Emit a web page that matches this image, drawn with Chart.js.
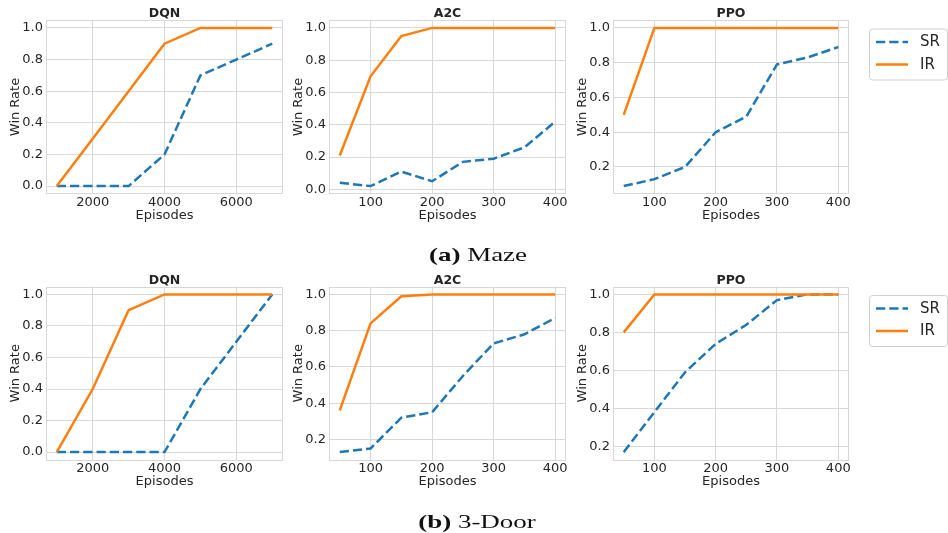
<!DOCTYPE html>
<html><head><meta charset="utf-8">
<script src="https://cdn.jsdelivr.net/npm/chart.js@4.4.0/dist/chart.umd.min.js"></script>
<style>
html,body{margin:0;padding:0;background:#fff;width:948px;height:533px;overflow:hidden;position:relative;}
canvas{position:absolute;left:0;top:0;}
.cap{position:absolute;font-family:"Liberation Serif","Times New Roman",serif;font-size:19px;line-height:19px;color:#111;white-space:nowrap;transform:translateX(-50%) scaleX(1.42);transform-origin:center;}
</style></head><body>
<canvas id="c0" width="948" height="533"></canvas>
<canvas id="c1" width="948" height="533"></canvas>
<canvas id="c2" width="948" height="533"></canvas>
<canvas id="c3" width="948" height="533"></canvas>
<canvas id="c4" width="948" height="533"></canvas>
<canvas id="c5" width="948" height="533"></canvas>
<div class="cap" style="left:478px;top:245px;"><b>(a)</b>&nbsp;Maze</div>
<div class="cap" style="left:477px;top:512px;"><b>(b)</b>&nbsp;3-Door</div>
<script>
// ---- data ----
const dqnEpisodes = [1000, 2000, 3000, 4000, 5000, 6000, 7000];
const pgEpisodes = [50, 100, 150, 200, 250, 300, 350, 400];
const dqnXTicks = [2000, 4000, 6000];
const pgXTicks = [100, 200, 300, 400];
const yTicksFull = [0, 0.2, 0.4, 0.6, 0.8, 1.0];
const yTicksHigh = [0.2, 0.4, 0.6, 0.8, 1.0];
const algoTitles = ['DQN', 'A2C', 'PPO'];
const seriesLabels = ['SR', 'IR'];

const mazeDqnSR = [0, 0, 0, 0.2, 0.7, 0.8, 0.9];
const mazeDqnIR = [0, 0.3, 0.6, 0.9, 1.0, 1.0, 1.0];
const mazeA2cSR = [0.04, 0.02, 0.11, 0.05, 0.17, 0.19, 0.26, 0.42];
const mazeA2cIR = [0.21, 0.70, 0.95, 1.0, 1.0, 1.0, 1.0, 1.0];
const mazePpoSR = [0.09, 0.13, 0.20, 0.40, 0.49, 0.79, 0.83, 0.89];
const mazePpoIR = [0.5, 1.0, 1.0, 1.0, 1.0, 1.0, 1.0, 1.0];

const doorDqnSR = [0, 0, 0, 0, 0.4, 0.7, 1.0];
const doorDqnIR = [0, 0.4, 0.9, 1.0, 1.0, 1.0, 1.0];
const doorA2cSR = [0.13, 0.15, 0.32, 0.35, 0.55, 0.73, 0.78, 0.87];
const doorA2cIR = [0.36, 0.84, 0.99, 1.0, 1.0, 1.0, 1.0, 1.0];
const doorPpoSR = [0.17, 0.38, 0.59, 0.74, 0.84, 0.97, 1.0, 1.0];
const doorPpoIR = [0.8, 1.0, 1.0, 1.0, 1.0, 1.0, 1.0, 1.0];

// ---- layout ----
const W = 948, H = 533;
const colLeft = [46, 329, 613];
const colRight = [283, 566, 849];
const rowTop = [19.5, 286];
const rowBottom = [194, 460];
const YW = 40, XH = 30, TH = 12;
const TXT = '#262626';
const GRID = '#d8d8d8';

Chart.defaults.font.family = 'DejaVu Sans';

function padRange(lo, hi) { const p = (hi - lo) * 0.05; return [lo - p, hi + p]; }

const frameLegendPlugin = {
  id: 'frameLegend',
  afterDatasetsDraw(chart) {
    const ctx = chart.ctx, a = chart.chartArea;
    ctx.save();
    ctx.strokeStyle = GRID; ctx.lineWidth = 1;
    ctx.strokeRect(Math.round(a.left) + 0.5, Math.round(a.top) + 0.5, Math.round(a.right - a.left) - 1, Math.round(a.bottom - a.top) - 1);
    ctx.restore();
    if (!chart.$showLegend) return;
    const x0 = a.right + 20, y0 = a.top + 8.5, w = 78, h = 51;
    ctx.save();
    ctx.fillStyle = '#fff';
    ctx.strokeStyle = '#d0d0d0';
    ctx.lineWidth = 1;
    ctx.beginPath();
    ctx.roundRect(x0 + 0.5, y0 + 0.5, w, h, 3);
    ctx.fill(); ctx.stroke();
    chart.data.datasets.forEach((ds, i) => {
      const cy = y0 + 13.5 + i * 22.5;
      ctx.strokeStyle = ds.borderColor;
      ctx.lineWidth = ds.borderWidth;
      ctx.setLineDash(ds.borderDash || []);
      ctx.beginPath();
      ctx.moveTo(x0 + 7, cy); ctx.lineTo(x0 + 39, cy);
      ctx.stroke();
      ctx.setLineDash([]);
      ctx.fillStyle = TXT;
      ctx.font = '15px "DejaVu Sans"';
      ctx.textBaseline = 'middle';
      ctx.textAlign = 'left';
      ctx.fillText(ds.label, x0 + 51, cy + 0.5);
    });
    ctx.restore();
  }
};

function makeChart(id, col, row, xs, sr, ir, xTicks, yTicks, title, showLegend) {
  const plotL = colLeft[col], plotR = colRight[col], plotT = rowTop[row], plotB = rowBottom[row];
  const [xmin, xmax] = padRange(Math.min(...xs), Math.max(...xs));
  const [ymin, ymax] = padRange(Math.min(...sr, ...ir), Math.max(...sr, ...ir));
  const tickFont = { family: 'DejaVu Sans', size: 13, lineHeight: 1.2 };
  const chart = new Chart(document.getElementById(id), {
    type: 'line',
    data: {
      datasets: [
        { label: seriesLabels[0], data: xs.map((x, i) => ({ x: x, y: sr[i] })), borderColor: '#1f77b4', borderWidth: 2.5, borderDash: [9.25, 4], pointRadius: 0, tension: 0, fill: false, order: 2 },
        { label: seriesLabels[1], data: xs.map((x, i) => ({ x: x, y: ir[i] })), borderColor: '#ff7f0e', borderWidth: 2.5, pointRadius: 0, tension: 0, fill: false, order: 1 }
      ]
    },
    options: {
      responsive: false, animation: false, events: [],
      layout: { padding: { left: plotL - YW, right: W - plotR, top: plotT - TH, bottom: H - plotB - XH } },
      plugins: {
        legend: { display: false },
        tooltip: { enabled: false },
        title: { display: true, text: title, fullSize: false, color: TXT,
          font: { family: 'DejaVu Sans', size: 12.5, weight: 'bold', lineHeight: 1 }, padding: { top: 0, bottom: 0 } }
      },
      scales: {
        x: {
          type: 'linear', min: xmin, max: xmax,
          afterBuildTicks: s => { s.ticks = xTicks.map(v => ({ value: v })); },
          afterFit: s => { s.height = XH; s.paddingLeft = 0; s.paddingRight = 0; },
          grid: { color: GRID, lineWidth: 1, drawTicks: false },
          border: { display: false },
          ticks: { padding: 1.2, color: TXT, font: tickFont, maxRotation: 0, autoSkip: false, callback: v => String(v) },
          title: { display: true, text: 'Episodes', color: TXT, font: tickFont, padding: { top: 0, bottom: 1 } }
        },
        y: {
          type: 'linear', min: ymin, max: ymax,
          afterBuildTicks: s => { s.ticks = yTicks.map(v => ({ value: v })); },
          afterFit: s => { s.width = YW; s.paddingTop = 0; s.paddingBottom = 0; },
          grid: { color: GRID, lineWidth: 1, drawTicks: false },
          border: { display: false },
          ticks: { padding: 3, color: TXT, font: tickFont, autoSkip: false, callback: v => Number(v).toFixed(1) },
          title: { display: true, text: 'Win Rate', color: TXT, font: tickFont, padding: { top: 1.7, bottom: 0 } }
        }
      }
    },
    plugins: [frameLegendPlugin]
  });
  chart.$showLegend = showLegend;
  chart.draw();
  return chart;
}

makeChart('c0', 0, 0, dqnEpisodes, mazeDqnSR, mazeDqnIR, dqnXTicks, yTicksFull, algoTitles[0], false);
makeChart('c1', 1, 0, pgEpisodes, mazeA2cSR, mazeA2cIR, pgXTicks, yTicksFull, algoTitles[1], false);
makeChart('c2', 2, 0, pgEpisodes, mazePpoSR, mazePpoIR, pgXTicks, yTicksHigh, algoTitles[2], true);
makeChart('c3', 0, 1, dqnEpisodes, doorDqnSR, doorDqnIR, dqnXTicks, yTicksFull, algoTitles[0], false);
makeChart('c4', 1, 1, pgEpisodes, doorA2cSR, doorA2cIR, pgXTicks, yTicksHigh, algoTitles[1], false);
makeChart('c5', 2, 1, pgEpisodes, doorPpoSR, doorPpoIR, pgXTicks, yTicksHigh, algoTitles[2], true);
</script>
</body></html>
